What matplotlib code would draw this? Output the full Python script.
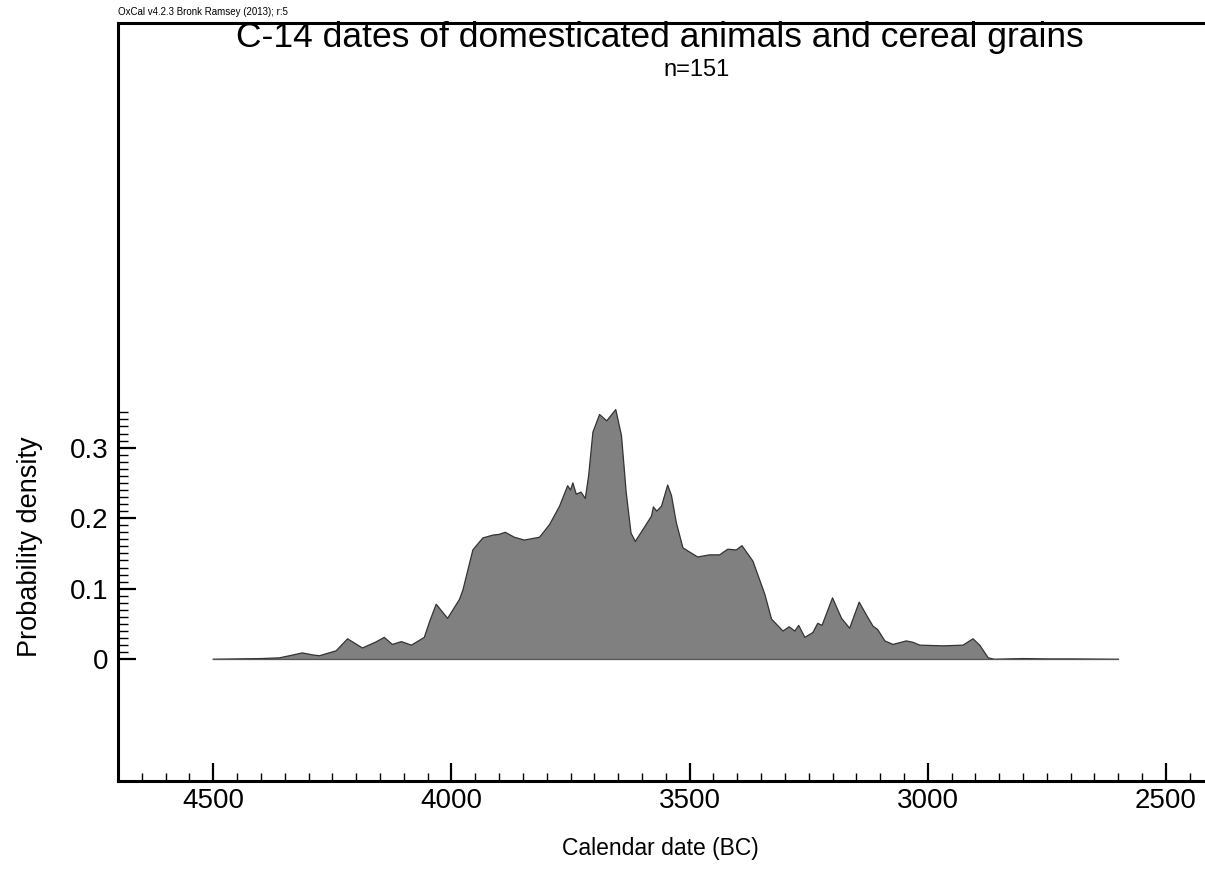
"""
plot.py - OxCal style summed probability plot of C-14 dates.

Writes: out.png
"""

import matplotlib
matplotlib.use("Agg")
import matplotlib.pyplot as plt
from matplotlib.ticker import FixedLocator, MultipleLocator

plt.rcParams["font.family"] = ["Liberation Sans", "DejaVu Sans"]

# calendar years BC and summed probability density
years_bc = [4500, 4450, 4400, 4361, 4340, 4313, 4290, 4277, 4242, 4218,
            4187, 4160, 4141, 4124, 4105, 4084, 4057, 4045, 4032, 4008,
            3983, 3976, 3955, 3934, 3913, 3900, 3887, 3868, 3847, 3815,
            3794, 3773, 3756, 3750, 3745, 3738, 3728, 3719, 3712, 3703,
            3689, 3674, 3655, 3643, 3633, 3623, 3614, 3595, 3580, 3576,
            3569, 3559, 3546, 3538, 3528, 3514, 3500, 3483, 3458, 3437,
            3420, 3402, 3390, 3367, 3342, 3328, 3304, 3291, 3279, 3271,
            3258, 3241, 3231, 3222, 3200, 3181, 3164, 3144, 3129, 3115,
            3105, 3090, 3073, 3045, 3031, 3017, 2968, 2926, 2905, 2891,
            2873, 2860, 2800, 2750, 2700, 2600]
density = [0.0, 0.0005, 0.001, 0.002, 0.005, 0.009, 0.006, 0.005, 0.012, 0.029,
           0.016, 0.024, 0.031, 0.021, 0.025, 0.020, 0.031, 0.055, 0.078, 0.058,
           0.085, 0.098, 0.155, 0.172, 0.176, 0.177, 0.180, 0.173, 0.169, 0.173,
           0.191, 0.217, 0.246, 0.240, 0.250, 0.234, 0.237, 0.228, 0.260, 0.322,
           0.347, 0.338, 0.354, 0.317, 0.236, 0.179, 0.167, 0.187, 0.203, 0.216,
           0.210, 0.217, 0.247, 0.232, 0.194, 0.158, 0.152, 0.145, 0.148, 0.148,
           0.156, 0.155, 0.161, 0.139, 0.092, 0.057, 0.040, 0.046, 0.040, 0.048,
           0.031, 0.038, 0.051, 0.048, 0.087, 0.058, 0.044, 0.081, 0.063, 0.047,
           0.042, 0.026, 0.021, 0.026, 0.024, 0.020, 0.019, 0.020, 0.029, 0.020,
           0.002, 0.0, 0.001, 0.0005, 0.0005, 0.0]

y_major = [0, 0.1, 0.2, 0.3]
y_labels = ["0", "0.1", "0.2", "0.3"]
y_minor = [i / 100 for i in range(36)]

fig = plt.figure(figsize=(12.05, 8.9), dpi=100)
ax = fig.add_axes([118 / 1205, 109 / 890, 1 - 118 / 1205, (867 - 109) / 890])

ax.fill_between(years_bc, density, 0, facecolor="#808080", edgecolor="none")
ax.plot(years_bc, density, color="#333333", linewidth=0.9)
ax.plot([years_bc[0], years_bc[-1]], [0, 0], color="#555555", linewidth=0.9)

ax.set_xlim(4700, 2418)
ax.set_ylim(-0.1726, 0.902)

ax.xaxis.set_major_locator(MultipleLocator(500))
ax.xaxis.set_minor_locator(MultipleLocator(50))
ax.yaxis.set_major_locator(FixedLocator(y_major))
ax.yaxis.set_minor_locator(FixedLocator(y_minor))
ax.set_yticklabels(y_labels)

ax.tick_params(axis="both", which="both", direction="in", top=False, right=False,
               labelsize=20, color="black")
ax.tick_params(axis="x", which="major", length=13, width=1.6, pad=5)
ax.tick_params(axis="x", which="minor", length=6, width=1.0)
ax.tick_params(axis="y", which="major", length=13, width=1.6, pad=7)
ax.tick_params(axis="y", which="minor", length=7, width=1.0)

for side in ("left", "bottom", "top"):
    ax.spines[side].set_linewidth(2.2)
ax.spines["right"].set_visible(False)

fig.text(118 / 1205, 1 - 12 / 890, "OxCal v4.2.3 Bronk Ramsey (2013); r:5",
         fontsize=7, ha="left", va="center")
fig.text(660 / 1205, 1 - 37 / 890,
         "C-14 dates of domesticated animals and cereal grains",
         fontsize=25.5, ha="center", va="center")
fig.text(697 / 1205, 1 - 70 / 890, "n=151", fontsize=17, ha="center", va="center")
fig.text(660 / 1205, 1 - 848 / 890, "Calendar date (BC)", fontsize=16.5,
         ha="center", va="center")
fig.text(30 / 1205, 1 - 547 / 890, "Probability density", fontsize=19.5,
         ha="center", va="center", rotation=90)

fig.savefig("out.png", dpi=100)
plt.close(fig)
